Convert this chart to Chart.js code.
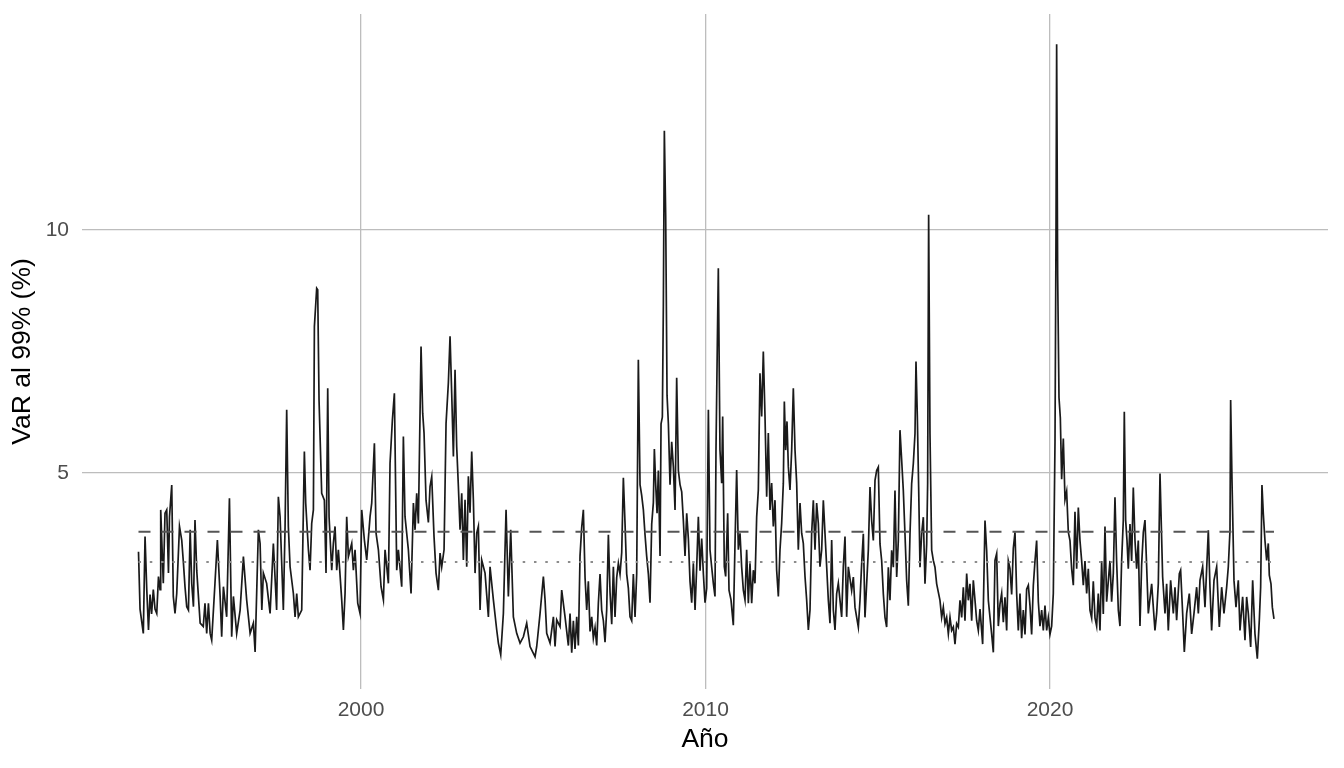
<!DOCTYPE html>
<html>
<head>
<meta charset="utf-8">
<script src="https://cdn.jsdelivr.net/npm/chart.js@4/dist/chart.umd.min.js"></script>
<style>
    html, body { margin: 0; padding: 0; background: #ffffff; }
    #wrap { width: 1344px; height: 768px; }
</style>
</head>
<body>
<div id="wrap"><canvas id="grafico" width="1344" height="768"></canvas></div>
<script>
// fechas (año decimal) y VaR al 99%
var fechas = [
    1993.540, 1993.585, 1993.680, 1993.730, 1993.780, 1993.830, 1993.875, 1993.920, 1993.970, 1994.020,
    1994.070, 1994.120, 1994.165, 1994.185, 1994.260, 1994.310, 1994.360, 1994.410, 1994.440, 1994.505,
    1994.550, 1994.600, 1994.650, 1994.730, 1994.795, 1994.845, 1994.890, 1994.940, 1994.990, 1995.040,
    1995.085, 1995.135, 1995.180, 1995.230, 1995.330, 1995.420, 1995.470, 1995.520, 1995.570, 1995.620,
    1995.665, 1995.760, 1995.830, 1995.910, 1995.955, 1996.005, 1996.100, 1996.180, 1996.245, 1996.295,
    1996.390, 1996.490, 1996.585, 1996.680, 1996.780, 1996.875, 1996.925, 1997.020, 1997.070, 1997.120,
    1997.165, 1997.260, 1997.360, 1997.455, 1997.550, 1997.600,
    1997.650, 1997.745, 1997.795, 1997.842, 1997.890, 1997.940, 1998.036, 1998.085, 1998.133, 1998.181,
    1998.278, 1998.355, 1998.394, 1998.472, 1998.520, 1998.568, 1998.617, 1998.646, 1998.713, 1998.742,
    1998.781, 1998.858, 1998.936, 1998.984, 1999.033, 1999.072, 1999.149, 1999.197, 1999.246, 1999.294,
    1999.342, 1999.439, 1999.488, 1999.536, 1999.584, 1999.633, 1999.730, 1999.778, 1999.826, 1999.904,
    1999.971, 2000.020, 2000.097, 2000.165, 2000.262, 2000.310, 2000.388, 2000.436, 2000.504, 2000.581,
    2000.649, 2000.697, 2000.794, 2000.842, 2000.910, 2000.968, 2001.036, 2001.084, 2001.181, 2001.229,
    2001.277, 2001.374, 2001.452, 2001.520, 2001.568, 2001.616, 2001.665, 2001.742,
    2001.790, 2001.829, 2001.887, 2001.955, 2002.003, 2002.052, 2002.119, 2002.177, 2002.245, 2002.294,
    2002.342, 2002.410, 2002.468, 2002.535, 2002.584, 2002.632, 2002.681, 2002.729, 2002.777, 2002.826,
    2002.874, 2002.923, 2002.971, 2003.019, 2003.068, 2003.116, 2003.164, 2003.213, 2003.261, 2003.310,
    2003.358, 2003.406, 2003.455, 2003.503, 2003.600, 2003.697, 2003.745, 2003.842, 2003.939, 2003.987,
    2004.055, 2004.132, 2004.210, 2004.277, 2004.345, 2004.422, 2004.519, 2004.616, 2004.713, 2004.809,
    2004.906, 2005.003, 2005.051, 2005.100, 2005.197, 2005.293, 2005.342, 2005.390, 2005.487, 2005.584,
    2005.632, 2005.680, 2005.777, 2005.825,
    2005.922, 2006.019, 2006.067, 2006.116, 2006.164, 2006.212, 2006.261, 2006.309, 2006.357, 2006.406,
    2006.454, 2006.503, 2006.551, 2006.599, 2006.648, 2006.696, 2006.744, 2006.793, 2006.841, 2006.890,
    2006.938, 2006.986, 2007.035, 2007.083, 2007.131, 2007.180, 2007.228, 2007.277, 2007.325, 2007.373,
    2007.422, 2007.470, 2007.518, 2007.567, 2007.615, 2007.664, 2007.712, 2007.760, 2007.809, 2007.857,
    2007.905, 2007.954, 2008.002, 2008.050, 2008.099, 2008.147, 2008.196, 2008.244, 2008.292, 2008.341,
    2008.389, 2008.438, 2008.486, 2008.515, 2008.554, 2008.593, 2008.631, 2008.680, 2008.709, 2008.747,
    2008.776, 2008.805, 2008.844, 2008.883, 2008.922, 2008.970, 2009.018, 2009.067, 2009.115, 2009.163,
    2009.212, 2009.260, 2009.309, 2009.357, 2009.405, 2009.454, 2009.502, 2009.550, 2009.599, 2009.647,
    2009.696, 2009.744, 2009.792, 2009.841, 2009.889, 2009.938, 2009.986, 2010.034, 2010.083,
    2010.130, 2010.178, 2010.227, 2010.275, 2010.304, 2010.353, 2010.372, 2010.420, 2010.469, 2010.498,
    2010.546, 2010.585, 2010.643, 2010.682, 2010.740, 2010.807, 2010.856, 2010.904, 2010.953, 2011.001,
    2011.049, 2011.098, 2011.146, 2011.194, 2011.243, 2011.291, 2011.340, 2011.388, 2011.436, 2011.485,
    2011.533, 2011.581, 2011.630, 2011.678, 2011.727, 2011.775, 2011.823, 2011.872, 2011.920, 2011.968,
    2012.017, 2012.065, 2012.114, 2012.162, 2012.210, 2012.259, 2012.288, 2012.327, 2012.365, 2012.404,
    2012.452, 2012.501, 2012.549, 2012.598, 2012.646, 2012.694, 2012.743, 2012.791, 2012.839, 2012.888,
    2012.936, 2012.985, 2013.033, 2013.081, 2013.130, 2013.178, 2013.226, 2013.275, 2013.323, 2013.372,
    2013.420, 2013.468, 2013.517, 2013.565, 2013.613, 2013.662, 2013.710, 2013.759, 2013.807, 2013.855,
    2013.952, 2014.000, 2014.049, 2014.097, 2014.146,
    2014.242, 2014.291, 2014.339, 2014.388, 2014.436, 2014.484, 2014.533, 2014.581, 2014.629, 2014.678,
    2014.726, 2014.775, 2014.823, 2014.871, 2014.920, 2014.968, 2015.016, 2015.065, 2015.113, 2015.162,
    2015.210, 2015.258, 2015.307, 2015.355, 2015.403, 2015.452, 2015.500, 2015.549, 2015.597, 2015.645,
    2015.694, 2015.742, 2015.790, 2015.839, 2015.887, 2015.936, 2015.984, 2016.032, 2016.081, 2016.110,
    2016.149, 2016.187, 2016.226, 2016.274, 2016.323, 2016.371, 2016.420, 2016.448, 2016.477, 2016.516,
    2016.565, 2016.613, 2016.661, 2016.710, 2016.806, 2016.855, 2016.903, 2016.952, 2017.000, 2017.049,
    2017.097, 2017.145, 2017.194, 2017.242, 2017.290, 2017.339, 2017.387, 2017.436, 2017.484, 2017.532,
    2017.581, 2017.629, 2017.677, 2017.726, 2017.774, 2017.823, 2017.871, 2017.919, 2017.968, 2018.045,
    2018.113, 2018.161, 2018.210, 2018.258, 2018.306, 2018.355, 2018.403, 2018.452,
    2018.500, 2018.548, 2018.597, 2018.645, 2018.693, 2018.742, 2018.790, 2018.838, 2018.887, 2018.935,
    2018.984, 2019.032, 2019.080, 2019.129, 2019.177, 2019.225, 2019.274, 2019.322, 2019.371, 2019.419,
    2019.467, 2019.516, 2019.564, 2019.612, 2019.661, 2019.709, 2019.758, 2019.806, 2019.854, 2019.903,
    2019.951, 2019.999, 2020.048, 2020.096, 2020.145, 2020.174, 2020.193, 2020.222, 2020.261, 2020.300,
    2020.338, 2020.387, 2020.435, 2020.483, 2020.532, 2020.580, 2020.628, 2020.677, 2020.725, 2020.774,
    2020.822, 2020.870, 2020.919, 2020.967, 2021.015, 2021.064, 2021.112, 2021.160, 2021.209, 2021.257,
    2021.306, 2021.354, 2021.402, 2021.451, 2021.499, 2021.547, 2021.596, 2021.644, 2021.692, 2021.741,
    2021.789, 2021.838, 2021.886, 2021.934, 2021.983, 2022.031, 2022.079, 2022.128, 2022.157, 2022.196,
    2022.235, 2022.273, 2022.322, 2022.370, 2022.418, 2022.467, 2022.515, 2022.563, 2022.612, 2022.660,
    2022.709,
    2022.757, 2022.806, 2022.854, 2022.951, 2023.047, 2023.096, 2023.144, 2023.193, 2023.270, 2023.338,
    2023.386, 2023.434, 2023.502, 2023.580, 2023.628, 2023.676, 2023.754, 2023.792, 2023.851, 2023.899,
    2023.967, 2024.044, 2024.112, 2024.180, 2024.257, 2024.306, 2024.354, 2024.431, 2024.499, 2024.596,
    2024.644, 2024.692, 2024.760, 2024.838, 2024.915, 2024.983, 2025.050, 2025.128, 2025.176, 2025.225,
    2025.244, 2025.283, 2025.341, 2025.399, 2025.466, 2025.515, 2025.592, 2025.660, 2025.708, 2025.757,
    2025.825, 2025.883, 2025.950, 2026.018, 2026.076, 2026.115, 2026.153, 2026.192, 2026.240, 2026.289,
    2026.337, 2026.366, 2026.415, 2026.454, 2026.502
];

var var99 = [
    3.38, 2.20, 1.70, 3.69, 2.60, 1.77, 2.50, 2.10, 2.60, 2.20,
    2.11, 2.87, 2.60, 4.24, 2.73, 4.17, 4.24, 2.94, 4.10, 4.75,
    2.46, 2.11, 2.52, 3.90, 3.62, 3.14, 2.66, 2.25, 2.18, 3.83,
    2.73, 2.25, 4.03, 3.00, 1.91, 1.84, 2.32, 1.70, 2.32, 1.70,
    1.56, 2.73, 3.62, 2.46, 1.63, 2.66, 2.04, 4.48, 1.63, 2.46,
    1.70, 2.18, 3.28, 2.39, 1.70, 1.91, 1.32, 3.83, 3.55, 2.18,
    2.94, 2.73, 2.11, 3.55, 2.18, 4.51,
    4.10, 2.18, 3.90, 6.30, 3.90, 3.07, 2.52, 2.04, 2.52, 2.04,
    2.18, 5.44, 4.38, 3.42, 3.00, 3.96, 4.24, 8.01, 8.80, 8.77,
    6.50, 4.58, 4.44, 2.94, 6.74, 4.10, 3.00, 3.55, 3.90, 3.00,
    3.42, 2.39, 1.77, 2.52, 4.10, 3.28, 3.55, 3.00, 3.42, 2.32,
    2.11, 4.24, 3.62, 3.21, 4.10, 4.38, 5.61, 3.76, 3.42, 2.66,
    2.39, 3.42, 2.73, 5.20, 6.09, 6.64, 3.00, 3.42, 2.66, 5.75,
    4.10, 3.42, 2.52, 4.38, 3.83, 4.58, 3.96, 7.60,
    6.23, 5.82, 4.44, 3.98, 4.72, 4.92, 3.69, 2.94, 2.59, 3.35,
    3.07, 3.42, 6.02, 6.85, 7.81, 6.64, 5.34, 7.12, 5.54, 4.72,
    3.83, 4.58, 3.21, 4.45, 3.07, 4.93, 4.18, 5.44, 4.45, 2.94,
    3.76, 3.90, 2.18, 3.21, 2.94, 2.04, 3.07, 2.39, 1.77, 1.50,
    1.26, 2.11, 4.24, 2.46, 3.83, 2.04, 1.70, 1.50, 1.63, 1.91,
    1.43, 1.29, 1.22, 1.43, 2.11, 2.87, 2.39, 1.70, 1.50, 2.04,
    1.43, 1.98, 1.84, 2.59,
    2.04, 1.45, 2.11, 1.30, 1.96, 1.38, 2.04, 1.45, 3.29, 3.88,
    4.24, 2.85, 2.18, 2.77, 1.74, 2.04, 1.60, 1.82, 1.45, 2.33,
    2.92, 2.18, 1.96, 1.52, 2.18, 3.73, 2.55, 1.89, 3.07, 2.04,
    2.85, 3.14, 2.92, 3.36, 4.90, 3.95, 2.92, 2.63, 2.04, 1.96,
    2.92, 2.04, 2.92, 7.33, 4.76, 4.54, 4.24, 3.73, 3.29, 2.92,
    2.33, 3.95, 4.39, 5.49, 4.76, 4.17, 5.05, 3.29, 6.01, 6.15,
    8.43, 12.04, 10.27, 6.60, 6.01, 4.76, 5.64, 5.12, 4.24, 6.96,
    5.05, 4.76, 4.61, 4.02, 3.29, 4.17, 3.65, 2.77, 2.33, 3.14,
    2.18, 3.07, 4.10, 2.99, 3.65, 2.92, 2.33, 2.63, 6.30,
    3.42, 3.07, 2.73, 2.46, 5.47, 8.22, 9.21, 5.47, 4.79, 6.16,
    3.07, 2.87, 4.17, 2.59, 2.39, 1.87, 3.55, 5.06, 3.42, 3.76,
    3.07, 2.59, 2.39, 3.42, 2.32, 3.14, 2.32, 3.00, 2.73, 4.10,
    4.65, 7.05, 6.16, 7.50, 6.16, 4.51, 5.82, 4.24, 4.79, 3.90,
    4.44, 3.00, 2.46, 3.42, 3.96, 4.79, 6.47, 5.47, 6.06, 5.13,
    4.65, 5.47, 6.74, 5.47, 4.79, 3.42, 4.38, 3.76, 3.55, 2.87,
    2.39, 1.77, 2.18, 3.76, 4.44, 3.42, 4.38, 3.96, 3.07, 3.42,
    4.44, 3.76, 3.07, 2.39, 1.91, 3.62, 2.18, 1.77, 2.52, 2.73,
    2.04, 3.07, 3.69, 2.04, 3.07,
    2.58, 2.86, 2.24, 2.03, 1.83, 2.38, 3.13, 3.75, 2.03, 2.72,
    3.41, 4.71, 4.02, 3.61, 4.85, 5.05, 5.12, 3.54, 3.20, 2.51,
    2.03, 1.83, 3.06, 2.38, 3.41, 3.06, 4.64, 2.86, 3.61, 5.88,
    5.26, 4.64, 3.75, 2.79, 2.27, 3.75, 4.78, 5.19, 5.81, 7.29,
    6.15, 4.71, 3.06, 3.75, 4.09, 2.72, 3.54, 4.78, 10.31, 5.81,
    3.41, 3.20, 3.06, 2.72, 2.38, 2.03, 2.24, 1.90, 2.03, 1.69,
    2.03, 1.76, 1.83, 1.48, 1.90, 1.83, 2.38, 2.03, 2.65, 1.96,
    2.93, 2.38, 2.72, 1.96, 2.79, 2.38, 1.96, 1.76, 2.20, 1.48,
    4.02, 3.41, 2.38, 2.03, 1.69, 1.31, 3.20, 3.34,
    1.85, 2.30, 2.52, 1.93, 2.44, 1.76, 3.19, 3.03, 2.50, 3.45,
    3.78, 2.52, 1.76, 2.52, 1.60, 2.18, 1.68, 2.61, 2.69, 2.27,
    1.68, 2.69, 3.19, 3.61, 2.35, 1.85, 2.18, 1.76, 2.27, 1.76,
    2.02, 1.68, 1.85, 2.52, 5.63, 9.92, 13.82, 9.08, 6.55, 6.13,
    4.87, 5.71, 4.45, 4.62, 3.78, 3.61, 3.03, 2.69, 4.20, 3.03,
    4.29, 3.61, 3.19, 2.69, 3.19, 2.52, 3.03, 2.18, 2.02, 2.77,
    2.02, 1.85, 2.52, 1.76, 3.19, 2.10, 3.90, 2.35, 2.77, 3.19,
    2.35, 2.94, 4.50, 3.19, 2.18, 1.85, 3.19, 4.03, 6.26, 4.03,
    3.61, 3.03, 3.95, 3.19, 4.70, 3.61, 3.03, 3.61, 1.85, 3.11,
    3.78,
    4.03, 3.07, 2.11, 2.72, 1.76, 2.11, 2.72, 4.99, 2.86, 2.11,
    2.72, 1.76, 2.79, 2.11, 2.65, 1.97, 2.93, 3.00, 2.11, 1.32,
    2.11, 2.52, 1.69, 2.11, 2.65, 2.11, 2.79, 3.07, 2.24, 3.82,
    2.65, 1.76, 2.79, 3.07, 1.83, 2.65, 2.11, 2.65, 3.07, 3.82,
    6.50, 4.85, 2.79, 2.24, 2.79, 1.76, 2.45, 1.56, 2.45, 2.11,
    1.42, 2.79, 1.69, 1.18, 1.97, 2.65, 4.75, 4.16, 3.61, 3.20,
    3.55, 2.90, 2.72, 2.24, 2.00
];

// niveles de referencia (línea discontinua y punteada)
var nivelDiscontinuo = 3.79;
var nivelPunteado = 3.17;

var ticksAnio = [2000, 2010, 2020];
var ticksVaR = [5, 10];

var fuente = "'Liberation Sans', Arial, Helvetica, sans-serif";

var serie = fechas.map(function (f, i) {
    return { x: f, y: var99[i] };
});
var inicio = fechas[0],
    fin = fechas[fechas.length - 1];

var ctx = document.getElementById("grafico").getContext("2d");

new Chart(ctx, {
    type: "line",
    data: {
        datasets: [
            {
                label: "nivel discontinuo",
                data: [{ x: inicio, y: nivelDiscontinuo }, { x: fin, y: nivelDiscontinuo }],
                borderColor: "#555555",
                borderWidth: 2.2,
                borderDash: [12, 11],
                pointRadius: 0,
                order: 0
            },
            {
                label: "nivel punteado",
                data: [{ x: inicio, y: nivelPunteado }, { x: fin, y: nivelPunteado }],
                borderColor: "#8c8c8c",
                borderWidth: 2,
                borderDash: [2.5, 8.8],
                pointRadius: 0,
                order: 0
            },
            {
                label: "VaR al 99%",
                data: serie,
                borderColor: "#1a1a1a",
                borderWidth: 1.7,
                pointRadius: 0,
                tension: 0,
                order: 1
            }
        ]
    },
    options: {
        responsive: false,
        animation: false,
        devicePixelRatio: 1,
        layout: {
            padding: { top: 14, right: 16, left: 0, bottom: 0 }
        },
        plugins: {
            legend: { display: false },
            tooltip: { enabled: false }
        },
        scales: {
            x: {
                type: "linear",
                min: 1991.90,
                max: 2028.07,
                afterBuildTicks: function (axis) {
                    axis.ticks = ticksAnio.map(function (v) { return { value: v }; });
                },
                afterFit: function (axis) {
                    axis.height = 79;
                    axis.paddingLeft = 0;
                    axis.paddingRight = 0;
                },
                grid: {
                    color: "#bdbdbd",
                    lineWidth: 1.3,
                    drawTicks: false
                },
                border: { display: false },
                ticks: {
                    color: "#4d4d4d",
                    padding: 9,
                    maxRotation: 0,
                    font: { family: fuente, size: 21 },
                    callback: function (value) { return String(value); }
                },
                title: {
                    display: true,
                    text: "Año",
                    color: "#000000",
                    font: { family: fuente, size: 26.5 },
                    padding: { top: 0, bottom: 12 }
                }
            },
            y: {
                min: 0.556,
                max: 14.44,
                afterBuildTicks: function (axis) {
                    axis.ticks = ticksVaR.map(function (v) { return { value: v }; });
                },
                afterFit: function (axis) {
                    axis.width = 82;
                    axis.paddingTop = 0;
                    axis.paddingBottom = 0;
                },
                grid: {
                    color: "#bdbdbd",
                    lineWidth: 1.3,
                    drawTicks: false
                },
                border: { display: false },
                ticks: {
                    color: "#4d4d4d",
                    padding: 13,
                    font: { family: fuente, size: 21 },
                    callback: function (value) { return String(value); }
                },
                title: {
                    display: true,
                    text: "VaR al 99% (%)",
                    color: "#000000",
                    font: { family: fuente, size: 26.5 },
                    padding: { top: 7, bottom: 0 }
                }
            }
        }
    }
});
</script>
</body>
</html>
